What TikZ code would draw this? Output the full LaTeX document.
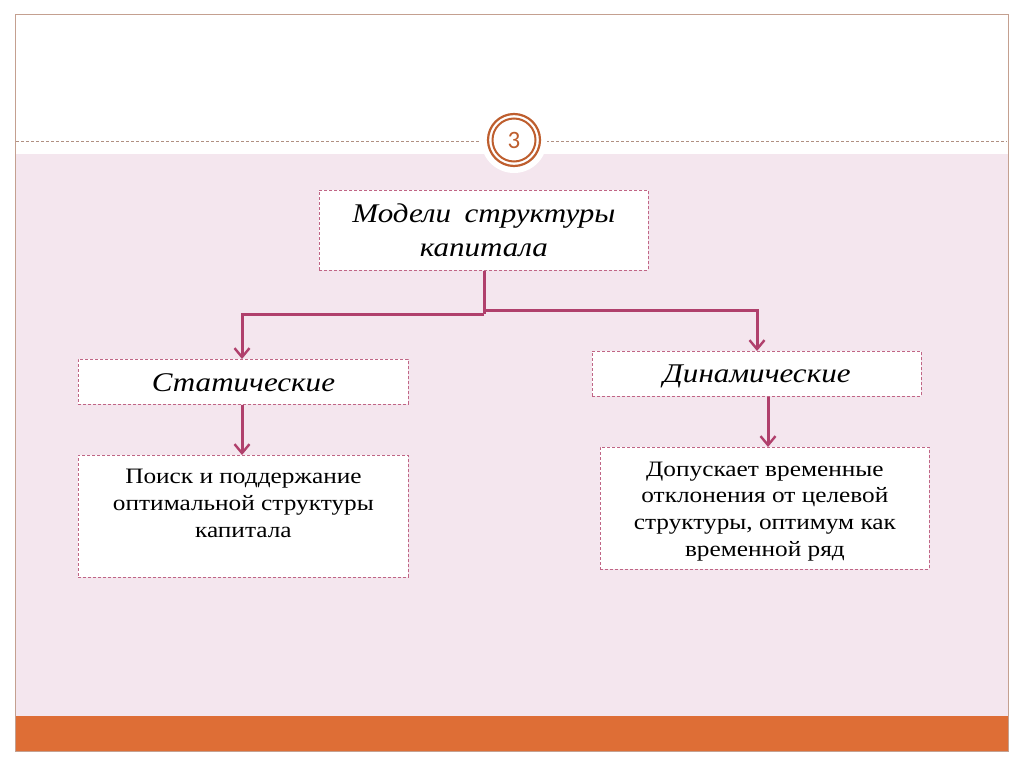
\documentclass[tikz,border=0pt]{standalone}
\usepackage{fontspec}
\setmainfont{Liberation Serif}[FakeStretch=1.15]
\newfontfamily\numfont{Carlito}
\usetikzlibrary{arrows.meta}
\definecolor{bgpink}{HTML}{F4E6EE}
\definecolor{barorange}{HTML}{DE6E36}
\definecolor{framec}{HTML}{C4A090}
\definecolor{ringc}{HTML}{BE5E2E}
\definecolor{boxedge}{HTML}{C06585}
\definecolor{arrowc}{HTML}{B0406C}
\tikzset{
  box/.style={draw=boxedge, densely dashed, line width=0.8pt, fill=white, inner sep=0pt, anchor=north west},
  head/.style={font=\itshape\fontsize{27}{34}\selectfont, align=center},
  body/.style={font=\fontsize{22}{26.8}\selectfont, align=center},
  conn/.style={draw=arrowc, line width=3pt, -{Straight Barb[length=9pt,width=15pt,line width=2.4pt]}},
}
\begin{document}
\begin{tikzpicture}[x=1pt,y=-1pt]
\useasboundingbox (0,0) rectangle (1024,767);
\fill[white] (0,0) rectangle (1024,767);
% background bands
\fill[bgpink] (15,154) rectangle (1008,716);
\fill[barorange] (15,716) rectangle (1008,751);
\draw[framec, line width=1pt] (15,15) rectangle (1008,751);
\draw[framec!90!black, densely dashed, line width=0.8pt] (16,141) -- (1007,141);
% circle
\fill[white] (514,140) circle (33);
\draw[ringc, line width=2.2pt] (514,140) circle (26);
\draw[ringc, line width=2pt] (514,140) circle (21.5);
\node[font=\numfont\fontsize{25}{28}\selectfont, text=ringc] (num) at (514,140) {3};
% boxes
\node[box, minimum width=329pt, minimum height=80pt] (top) at (319,190) {};
\node[head] at (top.center) {Модели\hspace{0.5em}структуры\\капитала};
\node[box, minimum width=330pt, minimum height=45pt] (stat) at (78,359) {};
\node[head] at ([yshift=-1pt]stat.center) {Статические};
\node[box, minimum width=329pt, minimum height=45pt] (dyn) at (592,351) {};
\node[head] at ([yshift=-3pt]dyn.center) {Динамические};
\node[box, minimum width=330pt, minimum height=122pt] (bl) at (78,455) {};
\node[body, anchor=north] at ([yshift=-11pt]bl.north) {Поиск и поддержание\\оптимальной структуры\\капитала};
\node[box, minimum width=329pt, minimum height=122pt] (br) at (600,447) {};
\node[body] at ([yshift=-3pt]br.center) {Допускает временные\\отклонения от целевой\\структуры, оптимум как\\временной ряд};
% connectors
\coordinate (j) at (484,314);
\coordinate (j2) at (484,310);
\draw[draw=arrowc, line width=3pt] (top.south -| j) -- (j);
\draw[conn] (j) -| (stat.north -| 242,0);
\draw[conn] (j2) -| (dyn.north -| 757,0);
\draw[conn] (stat.south -| 242,0) -- (bl.north -| 242,0);
\draw[conn] (dyn.south -| 768,0) -- (br.north -| 768,0);
\end{tikzpicture}
\end{document}
